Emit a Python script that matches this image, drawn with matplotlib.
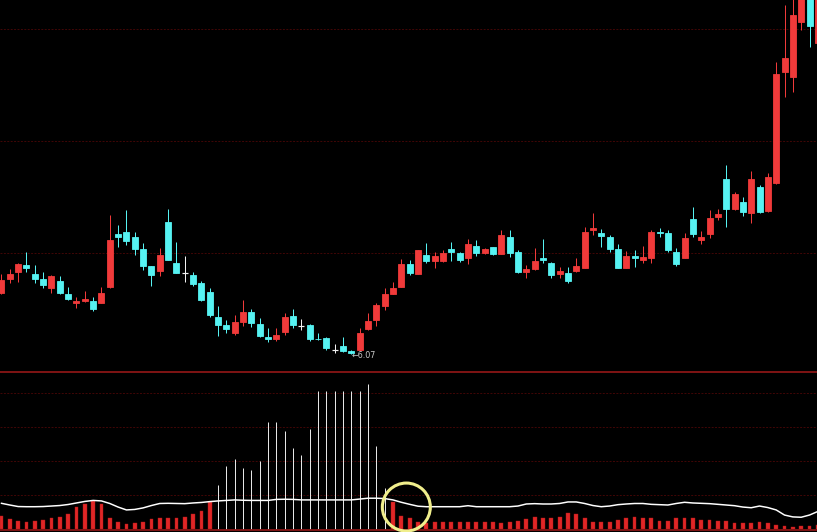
import matplotlib
matplotlib.use('Agg')
import matplotlib.pyplot as plt
from matplotlib.patches import Rectangle, Ellipse
import numpy as np

# ---- candlestick data (price) ----
opens = [7.29, 7.57, 7.71, 7.85, 7.67, 7.57, 7.39, 7.53, 7.27, 7.09,
         7.13, 7.13, 7.09, 7.41, 8.47, 8.51, 8.41, 8.17, 7.83, 7.73,
         8.71, 7.89, 7.69, 7.65, 7.49, 7.31, 6.81, 6.65, 6.49, 6.71,
         6.91, 6.67, 6.41, 6.37, 6.51, 6.83, 6.63, 6.65, 6.38, 6.39,
         6.15, 6.23, 6.13, 6.15, 6.57, 6.75, 7.03, 7.27, 7.41, 7.87,
         7.67, 8.05, 7.93, 7.93, 8.17, 8.09, 7.99, 8.23, 8.09, 8.21,
         8.07, 8.41, 8.11, 7.71, 7.77, 7.99, 7.89, 7.67, 7.69, 7.73,
         7.79, 8.55, 8.49, 8.41, 8.17, 7.79, 8.03, 7.95, 7.99, 8.51,
         8.49, 8.11, 7.99, 8.77, 8.36, 8.47, 8.81, 9.57, 8.97, 9.11,
         8.89, 9.41, 8.93, 9.49, 11.71, 11.61, 12.71, 13.35, 12.29]
closes = [7.55, 7.67, 7.87, 7.79, 7.57, 7.45, 7.63, 7.29, 7.17, 7.13,
          7.17, 6.97, 7.29, 8.35, 8.41, 8.33, 8.17, 7.83, 7.65, 8.05,
          7.95, 7.69, 7.69, 7.47, 7.15, 6.85, 6.65, 6.57, 6.71, 6.91,
          6.69, 6.43, 6.37, 6.45, 6.81, 6.65, 6.63, 6.37, 6.37, 6.19,
          6.15, 6.13, 6.10, 6.49, 6.73, 7.05, 7.27, 7.39, 7.87, 7.69,
          8.15, 7.93, 8.03, 8.09, 8.11, 7.95, 8.27, 8.09, 8.17, 8.07,
          8.45, 8.09, 7.71, 7.77, 7.93, 7.95, 7.65, 7.73, 7.53, 7.83,
          8.51, 8.59, 8.43, 8.17, 7.79, 8.03, 8.00, 8.01, 8.51, 8.50,
          8.15, 7.87, 8.39, 8.47, 8.42, 8.79, 8.87, 8.97, 9.27, 8.91,
          9.57, 8.91, 9.61, 11.67, 11.99, 12.85, 13.45, 12.63, 13.25]
highs = [7.67, 7.77, 7.89, 8.11, 7.85, 7.71, 7.65, 7.63, 7.41, 7.21,
         7.33, 7.21, 7.41, 8.85, 8.65, 8.95, 8.51, 8.29, 7.83, 8.19,
         8.97, 8.31, 8.03, 7.71, 7.53, 7.39, 7.03, 6.75, 6.85, 7.15,
         6.97, 6.79, 6.59, 6.59, 6.89, 6.97, 6.77, 6.67, 6.49, 6.41,
         6.27, 6.41, 6.15, 6.59, 6.89, 7.09, 7.39, 7.51, 7.97, 7.95,
         8.15, 8.29, 8.11, 8.15, 8.31, 8.11, 8.37, 8.35, 8.19, 8.21,
         8.55, 8.55, 8.15, 7.85, 8.19, 8.37, 7.91, 7.81, 7.81, 7.99,
         8.61, 8.89, 8.57, 8.45, 8.27, 8.13, 8.15, 8.23, 8.55, 8.59,
         8.55, 8.19, 8.49, 9.01, 8.53, 8.95, 8.97, 9.85, 9.31, 9.21,
         9.73, 9.45, 9.69, 11.91, 13.05, 13.25, 13.65, 13.55, 13.35]
lows = [7.27, 7.49, 7.51, 7.71, 7.49, 7.39, 7.29, 7.27, 7.15, 6.99,
        7.11, 6.93, 7.09, 7.39, 8.21, 8.25, 8.05, 7.75, 7.43, 7.63,
        7.95, 7.69, 7.51, 7.43, 7.13, 6.81, 6.43, 6.49, 6.45, 6.63,
        6.61, 6.41, 6.31, 6.33, 6.45, 6.59, 6.55, 6.33, 6.35, 6.15,
        6.09, 6.11, 6.07, 6.13, 6.55, 6.63, 6.95, 7.27, 7.41, 7.65,
        7.67, 7.89, 7.79, 7.91, 7.93, 7.91, 7.87, 8.03, 8.07, 8.05,
        8.07, 8.01, 7.69, 7.59, 7.75, 7.89, 7.59, 7.59, 7.49, 7.71,
        7.79, 8.45, 8.21, 8.11, 7.79, 7.79, 7.81, 7.89, 7.89, 8.41,
        8.11, 7.83, 7.99, 8.41, 8.27, 8.39, 8.75, 8.61, 8.95, 8.83,
        8.69, 8.89, 8.91, 9.47, 11.21, 11.31, 12.55, 12.21, 12.25]

low_mark_index = 42
low_mark_label = "←6.07"
low_mark_price = 6.07
main_grid = [8.09, 10.33, 12.57]

# ---- indicator panel ----
ind_bars = [7.6, 5.9, 4.7, 4.3, 4.7, 5.3, 6.3, 7.2, 8.8, 13.1,
            14.7, 16.5, 14.5, 6.3, 3.9, 2.9, 3.4, 4.3, 5.9, 6.3,
            6.3, 6.6, 7.2, 8.6, 10.8, 16.1, 25.9, 37.1, 41.0, 36.1,
            34.7, 40.0, 63.1, 63.1, 57.8, 47.5, 43.5, 58.8, 81.2, 81.2,
            81.2, 81.2, 81.2, 81.2, 85.3, 49.0, 24.3, 16.1, 7.8, 6.3,
            4.3, 3.4, 3.9, 3.9, 3.9, 3.9, 3.9, 3.9, 3.9, 3.9,
            3.7, 3.9, 4.9, 5.9, 6.9, 6.3, 6.6, 7.2, 9.6, 8.8,
            6.3, 4.3, 4.3, 4.3, 5.3, 6.6, 7.2, 6.6, 6.3, 4.9,
            4.9, 6.3, 6.3, 6.3, 5.3, 5.3, 4.7, 4.7, 3.7, 3.7,
            3.4, 4.3, 3.7, 2.4, 1.8, 1.4, 1.8, 1.9, 2.4]
ind_line = [15.1, 14.1, 13.2, 13.1, 13.1, 13.2, 13.5, 13.8, 14.4, 15.3,
            16.2, 16.8, 16.5, 15.0, 12.9, 11.2, 11.5, 12.4, 13.8, 15.0,
            15.1, 15.0, 14.9, 15.3, 15.6, 16.1, 16.5, 16.8, 17.1, 16.9,
            16.8, 16.8, 16.8, 17.4, 17.5, 17.4, 17.1, 17.1, 17.1, 17.1,
            17.1, 17.1, 17.1, 17.6, 18.1, 18.1, 17.9, 17.1, 15.7, 14.5,
            13.4, 13.1, 13.1, 13.1, 13.1, 13.1, 13.7, 13.1, 13.1, 13.1,
            13.1, 13.1, 13.5, 14.7, 14.9, 14.7, 14.7, 15.0, 15.9, 15.9,
            15.0, 13.8, 13.1, 13.5, 14.3, 14.7, 15.0, 15.0, 14.5, 14.3,
            14.1, 15.0, 15.7, 15.3, 15.1, 14.9, 14.5, 14.1, 13.7, 12.9,
            12.5, 13.5, 12.6, 11.2, 8.2, 7.1, 6.9, 8.2, 10.3]
white_phase_first, white_phase_last = 26, 46
ind_grid = [20, 40, 60, 80]
circle_index, circle_value = 48.6, 12.9

RED = '#f03a3a'
CYAN = '#56f2f2'
WHITE = '#f2f2f2'
GRID = '#420606'
SEP = '#961818'

n = len(opens)
idx = np.arange(n)

fig = plt.figure(figsize=(8.17, 5.32), dpi=100, facecolor='black')
ax = fig.add_axes([0, 161 / 532, 1, 371 / 532], facecolor='black')
ax2 = fig.add_axes([0, 2 / 532, 1, 158 / 532], facecolor='black')

xlim = (-0.18, 97.9)
px = 72 / 100.0  # points per pixel

# main panel
for g in main_grid:
    ax.axhline(g, color=GRID, lw=0.7, ls=(0, (2, 1.5)), zorder=0)

bw = 0.72
for i in range(n):
    o, c, h, l = opens[i], closes[i], highs[i], lows[i]
    if c > o:
        col = RED
    elif c < o:
        col = CYAN
    else:
        col = WHITE
    ax.vlines(i, l, h, color=col, lw=1.0 * px, zorder=2)
    if c == o:
        ax.hlines(o, i - bw / 2, i + bw / 2, color=col, lw=1.2 * px, zorder=3)
    else:
        ax.add_patch(Rectangle((i - bw / 2, min(o, c)), bw, abs(c - o),
                               facecolor=col, edgecolor=col, lw=0.6, zorder=3))

ax.annotate(low_mark_label, xy=(low_mark_index, low_mark_price), xytext=(0, -1.2),
            textcoords='offset points', color='#c8c8c8', fontsize=5.8,
            ha='left', va='center', family='DejaVu Sans')

ax.set_xlim(*xlim)
ax.set_ylim(13.15 - 0.02 * 371, 13.15)
ax.set_xticks([]); ax.set_yticks([])
for s in ax.spines.values():
    s.set_visible(False)

# indicator panel
for g in ind_grid:
    ax2.axhline(g, color=GRID, lw=0.7, ls=(0, (2, 1.5)), zorder=0)

for i in range(n):
    v = ind_bars[i]
    if white_phase_first <= i <= white_phase_last:
        ax2.vlines(i, 0, v, color='#e6e6e6', lw=1.0 * px, zorder=2)
    else:
        ax2.bar(i, v, width=0.46, bottom=0, color='#e02626', edgecolor='#b01818',
                lw=0.3, zorder=2)

ax2.plot(idx, ind_line, color='white', lw=1.5 * px, zorder=4)

ax2.add_patch(Ellipse((circle_index, circle_value), 48 / 8.33, 48 / 1.7,
                      facecolor='none', edgecolor='#f0ee8c', lw=2.2, zorder=5,
                      clip_on=False))

ax2.set_xlim(*xlim)
ax2.set_ylim(-0.6, (529 - 372) / 1.7)
ax2.set_xticks([]); ax2.set_yticks([])
for k, s in ax2.spines.items():
    if k in ('top', 'bottom'):
        s.set_color(SEP)
        s.set_linewidth(1.2)
    else:
        s.set_visible(False)

fig.savefig('out.png', dpi=100, facecolor='black')
